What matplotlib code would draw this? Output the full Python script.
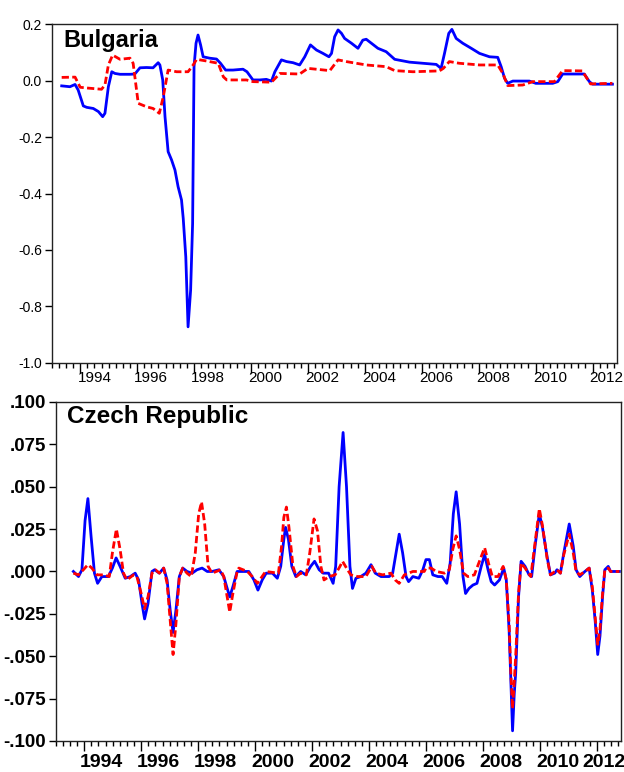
import matplotlib
matplotlib.use("Agg")
import matplotlib.pyplot as plt
import numpy as np

# Bulgaria
bg_blue_t = [1993.35, 1993.64, 1993.82, 1993.93, 1994.11, 1994.23, 1994.46, 1994.64, 1994.79, 1994.87,
             1994.99, 1995.11, 1995.22, 1995.40, 1995.75, 1995.92, 1996.10, 1996.33, 1996.56, 1996.74,
             1996.80, 1996.90, 1996.98, 1997.09, 1997.21, 1997.33, 1997.44, 1997.56, 1997.62, 1997.71,
             1997.79, 1997.88, 1997.95, 1998.00, 1998.07, 1998.14, 1998.23, 1998.32, 1998.55, 1998.79,
             1998.93, 1999.11, 1999.37, 1999.72, 1999.86, 2000.07, 2000.31, 2000.54, 2000.72, 2000.84,
             2001.07, 2001.25, 2001.48, 2001.71, 2001.89, 2002.09, 2002.30, 2002.53, 2002.74, 2002.83,
             2002.94, 2003.06, 2003.18, 2003.29, 2003.53, 2003.76, 2003.93, 2004.05, 2004.23, 2004.46,
             2004.75, 2005.05, 2005.57, 2006.04, 2006.51, 2006.68, 2006.80, 2006.95, 2007.06, 2007.21,
             2007.44, 2007.74, 2008.03, 2008.38, 2008.67, 2008.79, 2008.91, 2009.02, 2009.20, 2009.78,
             2010.01, 2010.60, 2010.78, 2010.95, 2011.71, 2011.89, 2012.00, 2012.70]
bg_blue = [-0.019, -0.022, -0.014, -0.034, -0.090, -0.095, -0.099, -0.110, -0.128, -0.116,
           -0.022, 0.031, 0.025, 0.022, 0.022, 0.023, 0.045, 0.046, 0.045, 0.063,
           0.055, 0.002, -0.128, -0.252, -0.281, -0.317, -0.376, -0.423, -0.488, -0.624,
           -0.872, -0.742, -0.506, 0.049, 0.132, 0.161, 0.126, 0.084, 0.079, 0.076,
           0.061, 0.037, 0.037, 0.040, 0.031, 0.002, 0.002, 0.004, -0.002, 0.031,
           0.073, 0.067, 0.063, 0.055, 0.084, 0.126, 0.108, 0.096, 0.084, 0.096,
           0.155, 0.179, 0.167, 0.149, 0.132, 0.114, 0.143, 0.146, 0.132, 0.114,
           0.102, 0.075, 0.065, 0.061, 0.057, 0.043, 0.096, 0.167, 0.181, 0.149,
           0.132, 0.114, 0.096, 0.084, 0.082, 0.049, 0.008, -0.010, -0.002, -0.002,
           -0.010, -0.010, -0.004, 0.023, 0.023, -0.004, -0.013, -0.013]

bg_red_t = [1993.35, 1993.82, 1994.00, 1994.29, 1994.75, 1994.87, 1994.99, 1995.14, 1995.40, 1995.75,
            1995.86, 1996.04, 1996.33, 1996.56, 1996.78, 1996.92, 1997.09, 1997.39, 1997.79, 1997.97,
            1998.09, 1998.44, 1998.85, 1999.03, 1999.15, 1999.84, 2000.07, 2000.72, 2001.02, 2001.71,
            2002.00, 2002.77, 2003.06, 2003.35, 2004.05, 2004.75, 2005.05, 2005.69, 2006.62, 2006.76,
            2006.97, 2007.32, 2008.03, 2008.67, 2008.85, 2009.02, 2009.55, 2009.90, 2010.66, 2010.95,
            2011.64, 2011.93, 2012.70]
bg_red = [0.011, 0.012, -0.024, -0.027, -0.031, -0.016, 0.055, 0.090, 0.075, 0.079,
          0.061, -0.081, -0.093, -0.099, -0.116, -0.057, 0.037, 0.031, 0.031, 0.055,
          0.075, 0.069, 0.061, 0.013, 0.002, 0.002, -0.004, -0.006, 0.025, 0.023,
          0.043, 0.035, 0.073, 0.067, 0.055, 0.049, 0.035, 0.031, 0.034, 0.043,
          0.067, 0.061, 0.055, 0.055, 0.025, -0.018, -0.016, -0.004, -0.004, 0.035,
          0.034, -0.012, -0.010]

# Czech Republic
cz_blue_t = [1993.62, 1993.80, 1993.92, 1994.03, 1994.13, 1994.24, 1994.36, 1994.47, 1994.62, 1994.85,
             1994.99, 1995.12, 1995.26, 1995.44, 1995.62, 1995.79, 1995.91, 1996.03, 1996.12, 1996.24,
             1996.38, 1996.47, 1996.64, 1996.79, 1996.91, 1997.02, 1997.12, 1997.22, 1997.34, 1997.46,
             1997.61, 1997.79, 1997.96, 1998.14, 1998.32, 1998.49, 1998.73, 1998.90, 1999.02, 1999.11,
             1999.22, 1999.37, 1999.49, 1999.78, 1999.96, 2000.10, 2000.25, 2000.39, 2000.61, 2000.78,
             2000.90, 2001.01, 2001.07, 2001.17, 2001.29, 2001.43, 2001.60, 2001.78, 2001.95, 2002.09,
             2002.25, 2002.39, 2002.58, 2002.74, 2002.83, 2002.95, 2003.09, 2003.21, 2003.33, 2003.42,
             2003.54, 2003.71, 2003.89, 2004.07, 2004.22, 2004.42, 2004.71, 2004.83, 2004.95, 2005.06,
             2005.18, 2005.30, 2005.39, 2005.54, 2005.75, 2005.89, 2006.00, 2006.12, 2006.24, 2006.42,
             2006.57, 2006.73, 2006.85, 2006.96, 2007.06, 2007.18, 2007.30, 2007.39, 2007.51, 2007.65,
             2007.79, 2007.94, 2008.06, 2008.18, 2008.29, 2008.41, 2008.58, 2008.73, 2008.82, 2008.92,
             2008.98, 2009.04, 2009.10, 2009.15, 2009.25, 2009.34, 2009.48, 2009.62, 2009.71, 2009.83,
             2009.98, 2010.09, 2010.25, 2010.37, 2010.52, 2010.60, 2010.72, 2010.84, 2011.03, 2011.17,
             2011.27, 2011.40, 2011.58, 2011.73, 2011.84, 2011.94, 2012.03, 2012.11, 2012.20, 2012.28,
             2012.40, 2012.48, 2012.79]
cz_blue = [0.000, -0.003, 0.001, 0.030, 0.043, 0.021, -0.001, -0.007, -0.003, -0.003,
           0.002, 0.008, 0.003, -0.004, -0.003, -0.001, -0.005, -0.019, -0.028, -0.019,
           0.000, 0.001, -0.001, 0.002, -0.005, -0.023, -0.036, -0.023, -0.003, 0.002,
           0.000, -0.001, 0.001, 0.002, 0.000, 0.000, 0.001, -0.003, -0.010, -0.015,
           -0.009, 0.000, 0.000, 0.000, -0.005, -0.011, -0.005, -0.001, -0.001, -0.004,
           0.003, 0.019, 0.026, 0.019, 0.003, -0.003, 0.000, -0.002, 0.003, 0.006,
           0.001, -0.001, -0.001, -0.007, 0.003, 0.050, 0.082, 0.050, 0.003, -0.010,
           -0.004, -0.003, -0.001, 0.004, -0.001, -0.003, -0.003, -0.001, 0.011, 0.022,
           0.011, -0.003, -0.006, -0.003, -0.004, 0.001, 0.007, 0.007, -0.002, -0.003,
           -0.003, -0.007, 0.005, 0.034, 0.047, 0.028, -0.003, -0.013, -0.010, -0.008,
           -0.007, 0.003, 0.010, 0.001, -0.006, -0.008, -0.005, 0.002, -0.005, -0.035,
           -0.065, -0.094, -0.072, -0.060, -0.015, 0.006, 0.003, -0.002, -0.003, 0.015,
           0.034, 0.026, 0.009, -0.002, -0.001, 0.001, -0.001, 0.011, 0.028, 0.015,
           0.001, -0.003, 0.000, 0.002, -0.011, -0.029, -0.049, -0.038, -0.015, 0.001,
           0.003, 0.000, 0.000]

cz_red_t = [1993.62, 1993.80, 1993.97, 1994.13, 1994.27, 1994.44, 1994.68, 1994.88, 1994.99, 1995.13,
            1995.26, 1995.38, 1995.50, 1995.73, 1995.85, 1996.00, 1996.12, 1996.24, 1996.38, 1996.50,
            1996.64, 1996.79, 1996.91, 1997.02, 1997.12, 1997.22, 1997.34, 1997.46, 1997.61, 1997.76,
            1997.90, 1998.02, 1998.12, 1998.23, 1998.35, 1998.49, 1998.79, 1998.90, 1999.02, 1999.11,
            1999.22, 1999.37, 1999.43, 1999.73, 1999.90, 2000.08, 2000.37, 2000.82, 2000.93, 2001.01,
            2001.10, 2001.19, 2001.33, 2001.45, 2001.60, 2001.80, 2001.92, 2002.07, 2002.19, 2002.31,
            2002.42, 2002.60, 2002.81, 2002.98, 2003.07, 2003.21, 2003.36, 2003.60, 2003.89, 2004.10,
            2004.24, 2004.48, 2004.77, 2004.92, 2005.06, 2005.24, 2005.54, 2005.94, 2006.00, 2006.18,
            2006.36, 2006.65, 2006.82, 2006.94, 2007.06, 2007.18, 2007.32, 2007.47, 2007.70, 2007.90,
            2008.06, 2008.21, 2008.33, 2008.53, 2008.71, 2008.82, 2008.92, 2008.98, 2009.04, 2009.10,
            2009.15, 2009.25, 2009.34, 2009.48, 2009.68, 2009.83, 2009.98, 2010.09, 2010.25, 2010.37,
            2010.52, 2010.60, 2010.72, 2010.84, 2011.03, 2011.17, 2011.27, 2011.40, 2011.58, 2011.73,
            2011.84, 2011.94, 2012.03, 2012.11, 2012.20, 2012.28, 2012.40, 2012.48, 2012.79]
cz_red = [-0.001, -0.002, 0.001, 0.004, 0.002, -0.002, -0.002, -0.003, 0.011, 0.025,
          0.013, -0.001, -0.005, -0.002, -0.003, -0.013, -0.022, -0.015, -0.001, 0.001,
          -0.001, 0.002, -0.007, -0.029, -0.049, -0.031, -0.003, 0.002, -0.001, -0.003,
          0.011, 0.034, 0.041, 0.028, 0.003, -0.001, 0.001, -0.003, -0.015, -0.024,
          -0.013, 0.000, 0.002, 0.000, -0.003, -0.007, 0.000, -0.001, 0.015, 0.032,
          0.038, 0.026, 0.003, -0.003, -0.001, -0.002, 0.011, 0.031, 0.024, 0.003,
          -0.005, -0.003, -0.002, 0.003, 0.006, 0.002, -0.002, -0.003, -0.003, 0.003,
          -0.001, -0.002, -0.001, -0.005, -0.007, -0.002, 0.000, 0.000, 0.002, 0.002,
          0.000, -0.001, 0.001, 0.013, 0.021, 0.013, -0.001, -0.003, -0.002, 0.007,
          0.014, 0.004, -0.003, -0.003, 0.003, -0.005, -0.031, -0.060, -0.081, -0.065,
          -0.050, -0.013, 0.005, 0.002, -0.003, 0.017, 0.037, 0.027, 0.008, -0.002,
          0.000, 0.001, -0.001, 0.010, 0.022, 0.011, 0.000, -0.002, 0.000, 0.002,
          -0.009, -0.027, -0.043, -0.034, -0.013, 0.001, 0.002, 0.000, 0.000]

years_lab = list(range(1994, 2013, 2))
bg_yticks = [0.2, 0.0, -0.2, -0.4, -0.6, -0.8, -1.0]
cz_yticks = [0.1, 0.075, 0.05, 0.025, 0.0, -0.025, -0.05, -0.075, -0.1]
cz_ylabels = [".100", ".075", ".050", ".025", ".000", "-.025", "-.050", "-.075", "-.100"]

plt.rcParams["font.family"] = ["Liberation Sans", "DejaVu Sans"]

fig = plt.figure(figsize=(6.24, 7.72), dpi=100)
ax1 = fig.add_axes([0.0829, 0.5298, 0.9054, 0.4391])
ax2 = fig.add_axes([0.0893, 0.0402, 0.906, 0.4391])

lw = 2.0
for ax, (bt, bv, rt, rv) in [(ax1, (bg_blue_t, bg_blue, bg_red_t, bg_red)),
                             (ax2, (cz_blue_t, cz_blue, cz_red_t, cz_red))]:
    ax.plot(bt, bv, color="#0000ff", lw=lw, solid_joinstyle="round")
    ax.plot(rt, rv, color="#ff0000", lw=lw, dashes=(2.6, 1.2))
    ax.set_xlim(1993.0, 2012.85)
    ax.set_xticks(years_lab)
    ax.set_xticks(np.arange(1993.0, 2012.9, 0.25), minor=True)
    ax.tick_params(axis="x", which="major", length=7, width=1, labelbottom=False)
    ax.tick_params(axis="x", which="minor", length=3.5, width=1)
    ax.tick_params(axis="y", length=5, width=1, pad=2)
    for s in ax.spines.values():
        s.set_linewidth(1.0)
        s.set_color("#222222")

# top panel
ax1.set_ylim(-1.0, 0.2)
ax1.set_yticks(bg_yticks)
ax1.set_yticklabels(["%.1f" % v for v in bg_yticks], fontsize=10)
for y in years_lab:
    ax1.text(y + 0.5, -0.045, str(y), transform=ax1.get_xaxis_transform(),
             ha="center", va="center", fontsize=11)
ax1.text(0.02, 0.985, "Bulgaria", transform=ax1.transAxes, ha="left", va="top",
         fontsize=17, fontweight="bold")

# bottom panel
ax2.set_ylim(-0.1, 0.1)
ax2.set_yticks(cz_yticks)
ax2.set_yticklabels(cz_ylabels, fontsize=13.5, fontweight="bold")
for y in years_lab:
    # last label pushed in so it stays inside the figure
    xpos = y + 0.62 if y < 2012 else 2012.25
    ax2.text(xpos, -0.038, str(y), transform=ax2.get_xaxis_transform(),
             ha="center", va="top", fontsize=14, fontweight="bold", clip_on=False)
ax2.text(0.0195, 0.99, "Czech Republic", transform=ax2.transAxes, ha="left", va="top",
         fontsize=17.5, fontweight="bold")

fig.savefig("out.png", dpi=100)
